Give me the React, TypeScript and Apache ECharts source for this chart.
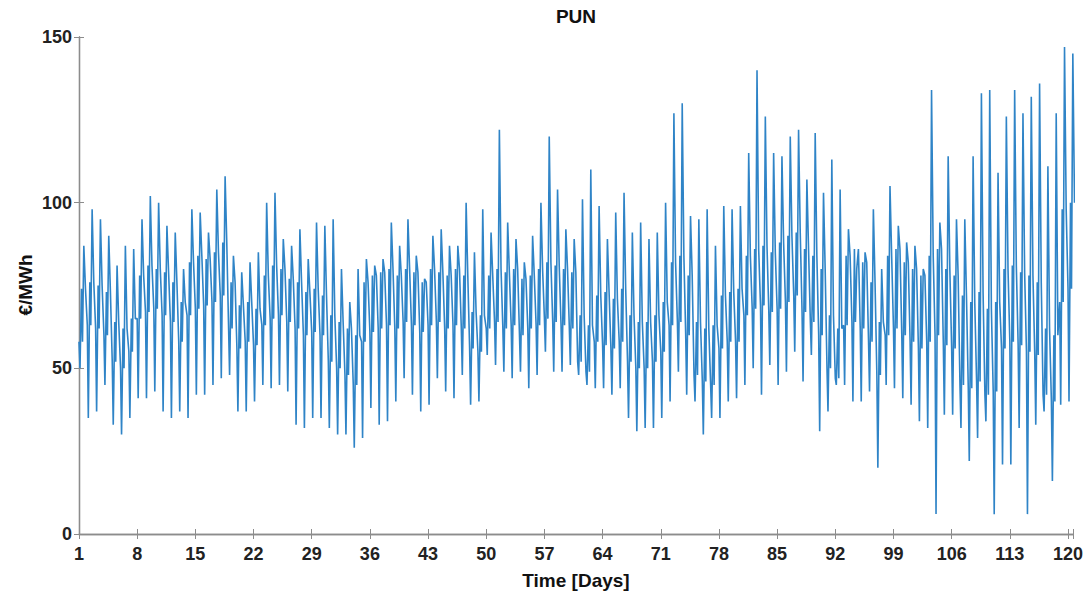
import React, { useEffect, useRef } from "react";
import * as echarts from "echarts";

// Daily readings (day 1 .. day 120) of the PUN price, €/MWh
const peakPrices = [
  87, 98, 95, 90, 81, 87, 86, 95, 102, 100,
  93, 91, 80, 98, 97, 91, 104, 108, 84, 79,
  82, 85, 100, 103, 89, 87, 92, 83, 94, 93,
  95, 80, 70, 80, 83, 81, 83, 94, 87, 95,
  84, 77, 90, 92, 87, 87, 100, 85, 98, 91,
  122, 94, 89, 82, 90, 100, 120, 104, 92, 89,
  101, 110, 99, 89, 97, 103, 91, 94, 89, 91,
  100, 127, 130, 96, 95, 98, 87, 99, 98, 99,
  115, 140, 126, 115, 114, 120, 122, 107, 121, 103,
  113, 104, 92, 80, 85, 98, 80, 105, 93, 88,
  87, 80, 134, 94, 114, 95, 95, 114, 133, 134,
  109, 126, 134, 127, 132, 136, 111, 127, 147, 145,
];

const troughPrices = [
  50, 35, 37, 45, 33, 30, 35, 41, 41, 43,
  37, 35, 37, 35, 42, 42, 45, 47, 48, 37,
  37, 40, 45, 44, 45, 43, 33, 32, 35, 35,
  32, 30, 30, 26, 29, 38, 33, 34, 40, 47,
  42, 37, 39, 47, 43, 41, 48, 39, 40, 54,
  51, 49, 47, 49, 44, 48, 55, 49, 49, 51,
  48, 45, 44, 44, 42, 44, 35, 31, 32, 32,
  35, 40, 49, 42, 40, 30, 35, 35, 40, 41,
  45, 50, 42, 51, 45, 49, 55, 46, 54, 31,
  37, 45, 45, 40, 40, 43, 20, 45, 44, 41,
  39, 34, 32, 6, 36, 36, 32, 22, 29, 34,
  6, 21, 21, 32, 6, 33, 37, 16, 39, 40,
];

const bandLowPrices = [
  58, 63, 62, 60, 52, 50, 55, 65, 67, 68,
  66, 64, 58, 66, 68, 69, 70, 72, 62, 56,
  58, 57, 63, 65, 66, 64, 62, 60, 61, 60,
  52, 50, 48, 45, 58, 61, 62, 63, 62, 64,
  63, 61, 63, 64, 62, 63, 62, 56, 55, 62,
  64, 62, 63, 60, 62, 63, 65, 64, 63, 62,
  52, 49, 58, 57, 56, 58, 52, 50, 50, 52,
  55, 63, 64, 60, 48, 46, 45, 56, 58, 58,
  66, 68, 69, 67, 68, 70, 72, 67, 64, 60,
  50, 47, 63, 64, 62, 58, 48, 60, 62, 60,
  58, 56, 58, 60, 57, 56, 45, 44, 46, 42,
  43, 56, 58, 57, 55, 54, 42, 40, 70, 74,
];

const bandHighPrices = [
  74, 76, 75, 73, 64, 62, 65, 78, 81, 80,
  79, 76, 70, 82, 84, 83, 85, 88, 76, 69,
  70, 68, 78, 81, 80, 77, 76, 73, 74, 72,
  66, 64, 62, 60, 76, 78, 79, 80, 78, 80,
  79, 76, 80, 79, 78, 80, 78, 67, 66, 78,
  80, 79, 80, 77, 78, 80, 82, 81, 80, 79,
  66, 63, 72, 73, 71, 74, 66, 64, 64, 66,
  70, 82, 84, 78, 64, 62, 63, 72, 73, 74,
  84, 86, 87, 85, 88, 90, 91, 86, 84, 80,
  66, 62, 84, 86, 82, 76, 64, 84, 86, 82,
  80, 78, 84, 86, 80, 78, 72, 70, 73, 68,
  70, 80, 81, 79, 78, 76, 62, 60, 98, 100,
];

const dayTicks = [1, 8, 15, 22, 29, 36, 43, 50, 57, 64, 71, 78, 85, 92, 99, 106, 113, 120];
const priceTicks = [0, 50, 100, 150];

const FONT = "'Liberation Sans', Arial, Helvetica, sans-serif";
const AXIS_COLOR = "#8c8c8c";
const TEXT_COLOR = "#222222";
const LINE_COLOR = "#2f84c7";

export default function App() {
  const ref = useRef<HTMLDivElement>(null);

  useEffect(() => {
    if (!ref.current) return;
    document.body.style.margin = "0";
    document.body.style.overflow = "hidden";
    const chart = echarts.init(ref.current, null, { renderer: "svg" });

    // x is expressed as (day - 1) so that axis ticks start at 0 with interval 7
    const data: number[][] = [];
    for (let i = 0; i < peakPrices.length; i++) {
      data.push([i + 0.0, bandLowPrices[i]]);
      data.push([i + 0.12, troughPrices[i]]);
      data.push([i + 0.3, bandHighPrices[i]]);
      data.push([i + 0.42, bandLowPrices[i]]);
      data.push([i + 0.58, peakPrices[i]]);
      data.push([i + 0.78, bandHighPrices[i]]);
    }

    const xMax = 119.6;
    const yMin = priceTicks[0];
    const yMax = priceTicks[priceTicks.length - 1];

    const xLabel = (v: number) => {
      const r = Math.round(v);
      if (Math.abs(v - r) > 1e-6) return "";
      return dayTicks.includes(r + 1) ? String(r + 1) : "";
    };

    const axisLine = { show: true, lineStyle: { color: AXIS_COLOR, width: 1.3 } };
    const axisTick = { show: true, inside: true, length: 5, lineStyle: { color: AXIS_COLOR, width: 1 } };
    const labelStyle = {
      fontFamily: FONT,
      fontWeight: "bold" as const,
      fontSize: 18,
      color: TEXT_COLOR,
    };

    chart.setOption({
      animation: false,
      backgroundColor: "#ffffff",
      grid: { left: 79, top: 37, width: 994, height: 497, containLabel: false },
      xAxis: [
        {
          type: "value",
          position: "bottom",
          min: 0,
          max: xMax,
          interval: 7,
          axisLine,
          axisTick,
          splitLine: { show: false },
          axisLabel: { ...labelStyle, margin: 11, formatter: xLabel, showMaxLabel: true, showMinLabel: true, hideOverlap: false },
        },
        {
          type: "value",
          position: "top",
          min: 0,
          max: xMax,
          interval: 7,
          axisLine,
          axisTick,
          splitLine: { show: false },
          axisLabel: { show: false },
        },
      ],
      yAxis: [
        {
          type: "value",
          position: "left",
          min: yMin,
          max: yMax,
          interval: 50,
          axisLine,
          axisTick,
          splitLine: { show: false },
          axisLabel: { ...labelStyle, margin: 7 },
        },
        {
          type: "value",
          position: "right",
          min: yMin,
          max: yMax,
          interval: 50,
          axisLine,
          axisTick,
          splitLine: { show: false },
          axisLabel: { show: false },
        },
      ],
      series: [
        {
          type: "line",
          xAxisIndex: 0,
          yAxisIndex: 0,
          data,
          showSymbol: false,
          symbol: "none",
          clip: true,
          lineStyle: { color: LINE_COLOR, width: 1.6 },
          itemStyle: { color: LINE_COLOR },
        },
      ],
      graphic: [
        {
          type: "text",
          x: 576,
          y: 16,
          style: {
            text: "PUN",
            fontFamily: FONT,
            fontWeight: "bold",
            fontSize: 19,
            fill: "#111111",
            textAlign: "center",
            textVerticalAlign: "middle",
          },
        },
        {
          type: "text",
          x: 576,
          y: 580,
          style: {
            text: "Time [Days]",
            fontFamily: FONT,
            fontWeight: "bold",
            fontSize: 19,
            fill: "#111111",
            textAlign: "center",
            textVerticalAlign: "middle",
          },
        },
        {
          type: "text",
          x: 25,
          y: 285,
          rotation: Math.PI / 2,
          style: {
            text: "€/MWh",
            fontFamily: FONT,
            fontWeight: "bold",
            fontSize: 19,
            fill: "#111111",
            textAlign: "center",
            textVerticalAlign: "middle",
          },
        },
      ],
    });

    return () => {
      chart.dispose();
    };
  }, []);

  return <div ref={ref} style={{ width: 1089, height: 595 }} />;
}
